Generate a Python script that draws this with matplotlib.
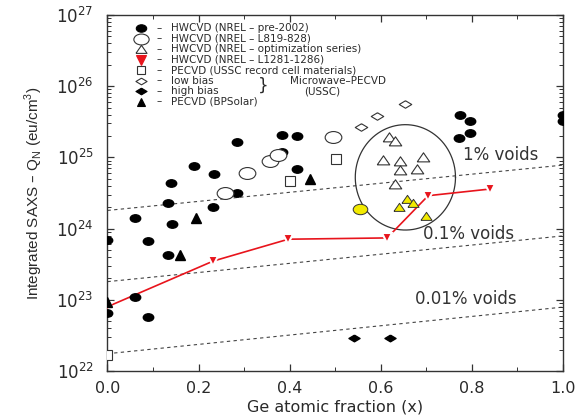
import numpy as np
import matplotlib
matplotlib.use("Agg")
import matplotlib.pyplot as plt
from matplotlib.path import Path
from matplotlib.transforms import Affine2D
from matplotlib.ticker import MultipleLocator, LogLocator, NullFormatter

# HWCVD (NREL - pre-2002)
pre_x = [0.0, 0.0, 0.06, 0.09, 0.09, 0.06, 0.133, 0.142, 0.133, 0.14, 0.19, 0.234,
         0.232, 0.284, 0.285, 0.383, 0.416, 0.383, 0.415, 0.773, 0.795, 0.795, 0.771, 1.0, 1.0]
pre_y = [7e23, 6.5e22, 1.1e23, 5.8e22, 6.8e23, 1.4e24, 4.3e23, 1.15e24, 2.3e24, 4.4e24, 7.6e24, 5.9e24,
         2e24, 1.66e25, 3.2e24, 2.05e25, 2e25, 1.2e25, 6.9e24, 4e25, 3.2e25, 2.2e25, 1.9e25, 4e25, 3.2e25]
# HWCVD (NREL - L819-828)
l819_x = [0.259, 0.306, 0.357, 0.375, 0.496]
l819_y = [3.2e24, 6e24, 8.9e24, 1.07e25, 1.95e25]
# HWCVD (NREL - optimization series)
opt_x = [0.619, 0.632, 0.605, 0.643, 0.693, 0.643, 0.680, 0.632]
opt_y = [1.95e25, 1.7e25, 9.1e24, 8.9e24, 1.0e25, 6.6e24, 6.8e24, 4.3e24]
# highlighted (yellow) samples
yel_tri_x = [0.658, 0.671, 0.639, 0.70]
yel_tri_y = [2.6e24, 2.3e24, 2e24, 1.5e24]
yel_circ_x = [0.555]
yel_circ_y = [1.9e24]
# HWCVD (NREL - L1281-1286)
l1281_x = [0.0, 0.232, 0.397, 0.614, 0.704, 0.84]
l1281_y = [8e22, 3.5e23, 7.1e23, 7.4e23, 2.9e24, 3.6e24]
# PECVD (USSC record cell materials)
ussc_x = [0.0, 0.401, 0.502]
ussc_y = [1.7e22, 4.7e24, 9.5e24]
# Microwave-PECVD low / high bias
low_x = [0.557, 0.592, 0.654]
low_y = [2.7e25, 3.8e25, 5.7e25]
high_x = [0.542, 0.62]
high_y = [2.9e22, 2.9e22]
# PECVD (BPSolar)
bp_x = [0.0, 0.16, 0.195, 0.445]
bp_y = [9.3e22, 4.3e23, 1.4e24, 5e24]

legend_labels = ["HWCVD (NREL \u2013 pre-2002)", "HWCVD (NREL \u2013 L819-828)",
                 "HWCVD (NREL \u2013 optimization series)", "HWCVD (NREL \u2013 L1281-1286)",
                 "PECVD (USSC record cell materials)", "low bias", "high bias",
                 "PECVD (BPSolar)"]

# void fraction reference lines (value at x=0 and x=1)
void_labels = ["1% voids", "0.1% voids", "0.01% voids"]
void_start = [1.8e24, 1.8e23, 1.75e22]
void_end = [7.8e24, 7.9e23, 7.9e22]

# ellipse round the optimization series: centre x, log10 centre y, half widths
ell_cx, ell_cy, ell_ax, ell_ay = 0.654, 24.72, 0.11, 0.74

# markers: flattened circle and diamond
oval = Path.unit_circle().transformed(Affine2D().scale(1.4, 1.0))
dia = Path([(0, 1), (1, 0), (0, -1), (-1, 0), (0, 1)]).transformed(Affine2D().scale(1.0, 0.6))
tri_up = Path([(-1, -0.7), (1, -0.7), (0, 0.75), (-1, -0.7)])

INK = '#2a2a2a'
LEG_FS = 7.5

fig = plt.figure(figsize=(5.77, 4.15), dpi=100)
ax = fig.add_axes([0.1863, 0.106, 0.7894, 0.8578])
ax.set_yscale('log')
ax.set_xlim(0, 1)
ax.set_ylim(1e22, 1e27)

for s, e in zip(void_start, void_end):
    ax.plot([0, 1], [s, e], color='#444444', lw=0.8, ls=(0, (3, 3)), zorder=1)

t = np.linspace(0, 2 * np.pi, 200)
ax.plot(ell_cx + ell_ax * np.cos(t), 10 ** (ell_cy + ell_ay * np.sin(t)),
        color='#333333', lw=0.9, zorder=1)

ax.plot(l1281_x, l1281_y, color='#e8141c', lw=1.2, zorder=2)
ax.plot(l1281_x, l1281_y, ls='none', marker='v', ms=7.5, mfc='#e8141c',
        mec='white', mew=1.5, zorder=3)

kw = dict(ls='none', zorder=4)
ax.plot(pre_x, pre_y, marker=oval, ms=7.5, mfc='black', mec='black', **kw)
ax.plot(l819_x, l819_y, marker=oval, ms=12, mfc='white', mec='#333333', mew=0.8, **kw)
ax.plot(opt_x, opt_y, marker=tri_up, ms=9, mfc='white', mec='#333333', mew=0.8, **kw)
ax.plot(yel_tri_x, yel_tri_y, marker=tri_up, ms=8, mfc='#f2ea00', mec='#333333', mew=0.7, **kw)
ax.plot(yel_circ_x, yel_circ_y, marker=oval, ms=10.5, mfc='#f2ea00', mec='#333333', mew=0.7, **kw)
ax.plot(ussc_x, ussc_y, marker='s', ms=6.5, mfc='white', mec='#333333', mew=0.8, **kw)
ax.plot(low_x, low_y, marker=dia, ms=9, mfc='white', mec='#333333', mew=0.8, **kw)
ax.plot(high_x, high_y, marker=dia, ms=8, mfc='black', mec='black', **kw)
ax.plot(bp_x, bp_y, marker='^', ms=6.5, mfc='black', mec='black', **kw)

# hand-made legend
leg_marks = [
    dict(marker=oval, ms=7.5, mfc='black', mec='black'),
    dict(marker=oval, ms=11, mfc='white', mec='#333333'),
    dict(marker=tri_up, ms=8, mfc='white', mec='#333333'),
    dict(marker='v', ms=7, mfc='#e8141c', mec='#e8141c'),
    dict(marker='s', ms=6, mfc='white', mec='#333333'),
    dict(marker=dia, ms=8, mfc='white', mec='#333333'),
    dict(marker=dia, ms=8, mfc='black', mec='black'),
    dict(marker='^', ms=6, mfc='black', mec='black'),
]
row0, row_step = 28, 10.5


def fx(px):
    return (px - 107.5) / 455.0


def fy(py):
    return 1 - (py - 15) / 356.0


for i, (mk, label) in enumerate(zip(leg_marks, legend_labels)):
    py = row0 + i * row_step
    ax.plot([fx(141)], [fy(py)], transform=ax.transAxes, ls='none',
            clip_on=False, mew=0.8, **mk)
    ax.text(fx(156), fy(py), "\u2013", transform=ax.transAxes, va='center', ha='left',
            fontsize=LEG_FS, color=INK)
    ax.text(fx(171), fy(py), label, transform=ax.transAxes, va='center', ha='left',
            fontsize=LEG_FS, color=INK)
ax.text(fx(258), fy(86), "}", transform=ax.transAxes, va='center', ha='left',
        fontsize=12, color=INK)
ax.text(fx(338), fy(row0 + 5 * row_step), "Microwave\u2013PECVD", transform=ax.transAxes,
        va='center', ha='center', fontsize=LEG_FS, color=INK)
ax.text(fx(322), fy(row0 + 6 * row_step), "(USSC)", transform=ax.transAxes,
        va='center', ha='center', fontsize=LEG_FS, color=INK)

# void labels
void_pos = [(0.781, 1.07e25), (0.693, 8.3e23), (0.676, 1.02e23)]
for lab, (x, y) in zip(void_labels, void_pos):
    ax.text(x, y, lab, fontsize=12, color='#333333', va='center', ha='left', zorder=5)

ax.xaxis.set_major_locator(MultipleLocator(0.2))
ax.xaxis.set_minor_locator(MultipleLocator(0.1))
ax.xaxis.set_major_formatter(plt.FuncFormatter(lambda v, p: f"{v:.1f}"))
ax.yaxis.set_major_locator(LogLocator(base=10, numticks=10))
ax.yaxis.set_minor_locator(LogLocator(base=10, subs=np.arange(2, 10), numticks=20))
ax.yaxis.set_minor_formatter(NullFormatter())
ax.tick_params(which='both', direction='in', top=True, right=True, color='#333333')
ax.tick_params(which='major', length=5, width=0.9)
ax.tick_params(which='minor', length=3, width=0.7)
ax.tick_params(axis='x', labelsize=11.5, pad=7, labelcolor=INK)
ax.tick_params(axis='y', labelsize=12, pad=10, labelcolor=INK)
for sp in ax.spines.values():
    sp.set_color('#333333')
    sp.set_linewidth(1.0)

ax.set_xlabel("Ge atomic fraction (x)", fontsize=11.5, color=INK, labelpad=3)
ax.set_ylabel("Integrated SAXS \u2013 Q$_\\mathregular{N}$ (eu/cm$^\\mathregular{3}$)",
              fontsize=11, color=INK, labelpad=8, family='Liberation Sans')

fig.savefig("out.png", dpi=100)
